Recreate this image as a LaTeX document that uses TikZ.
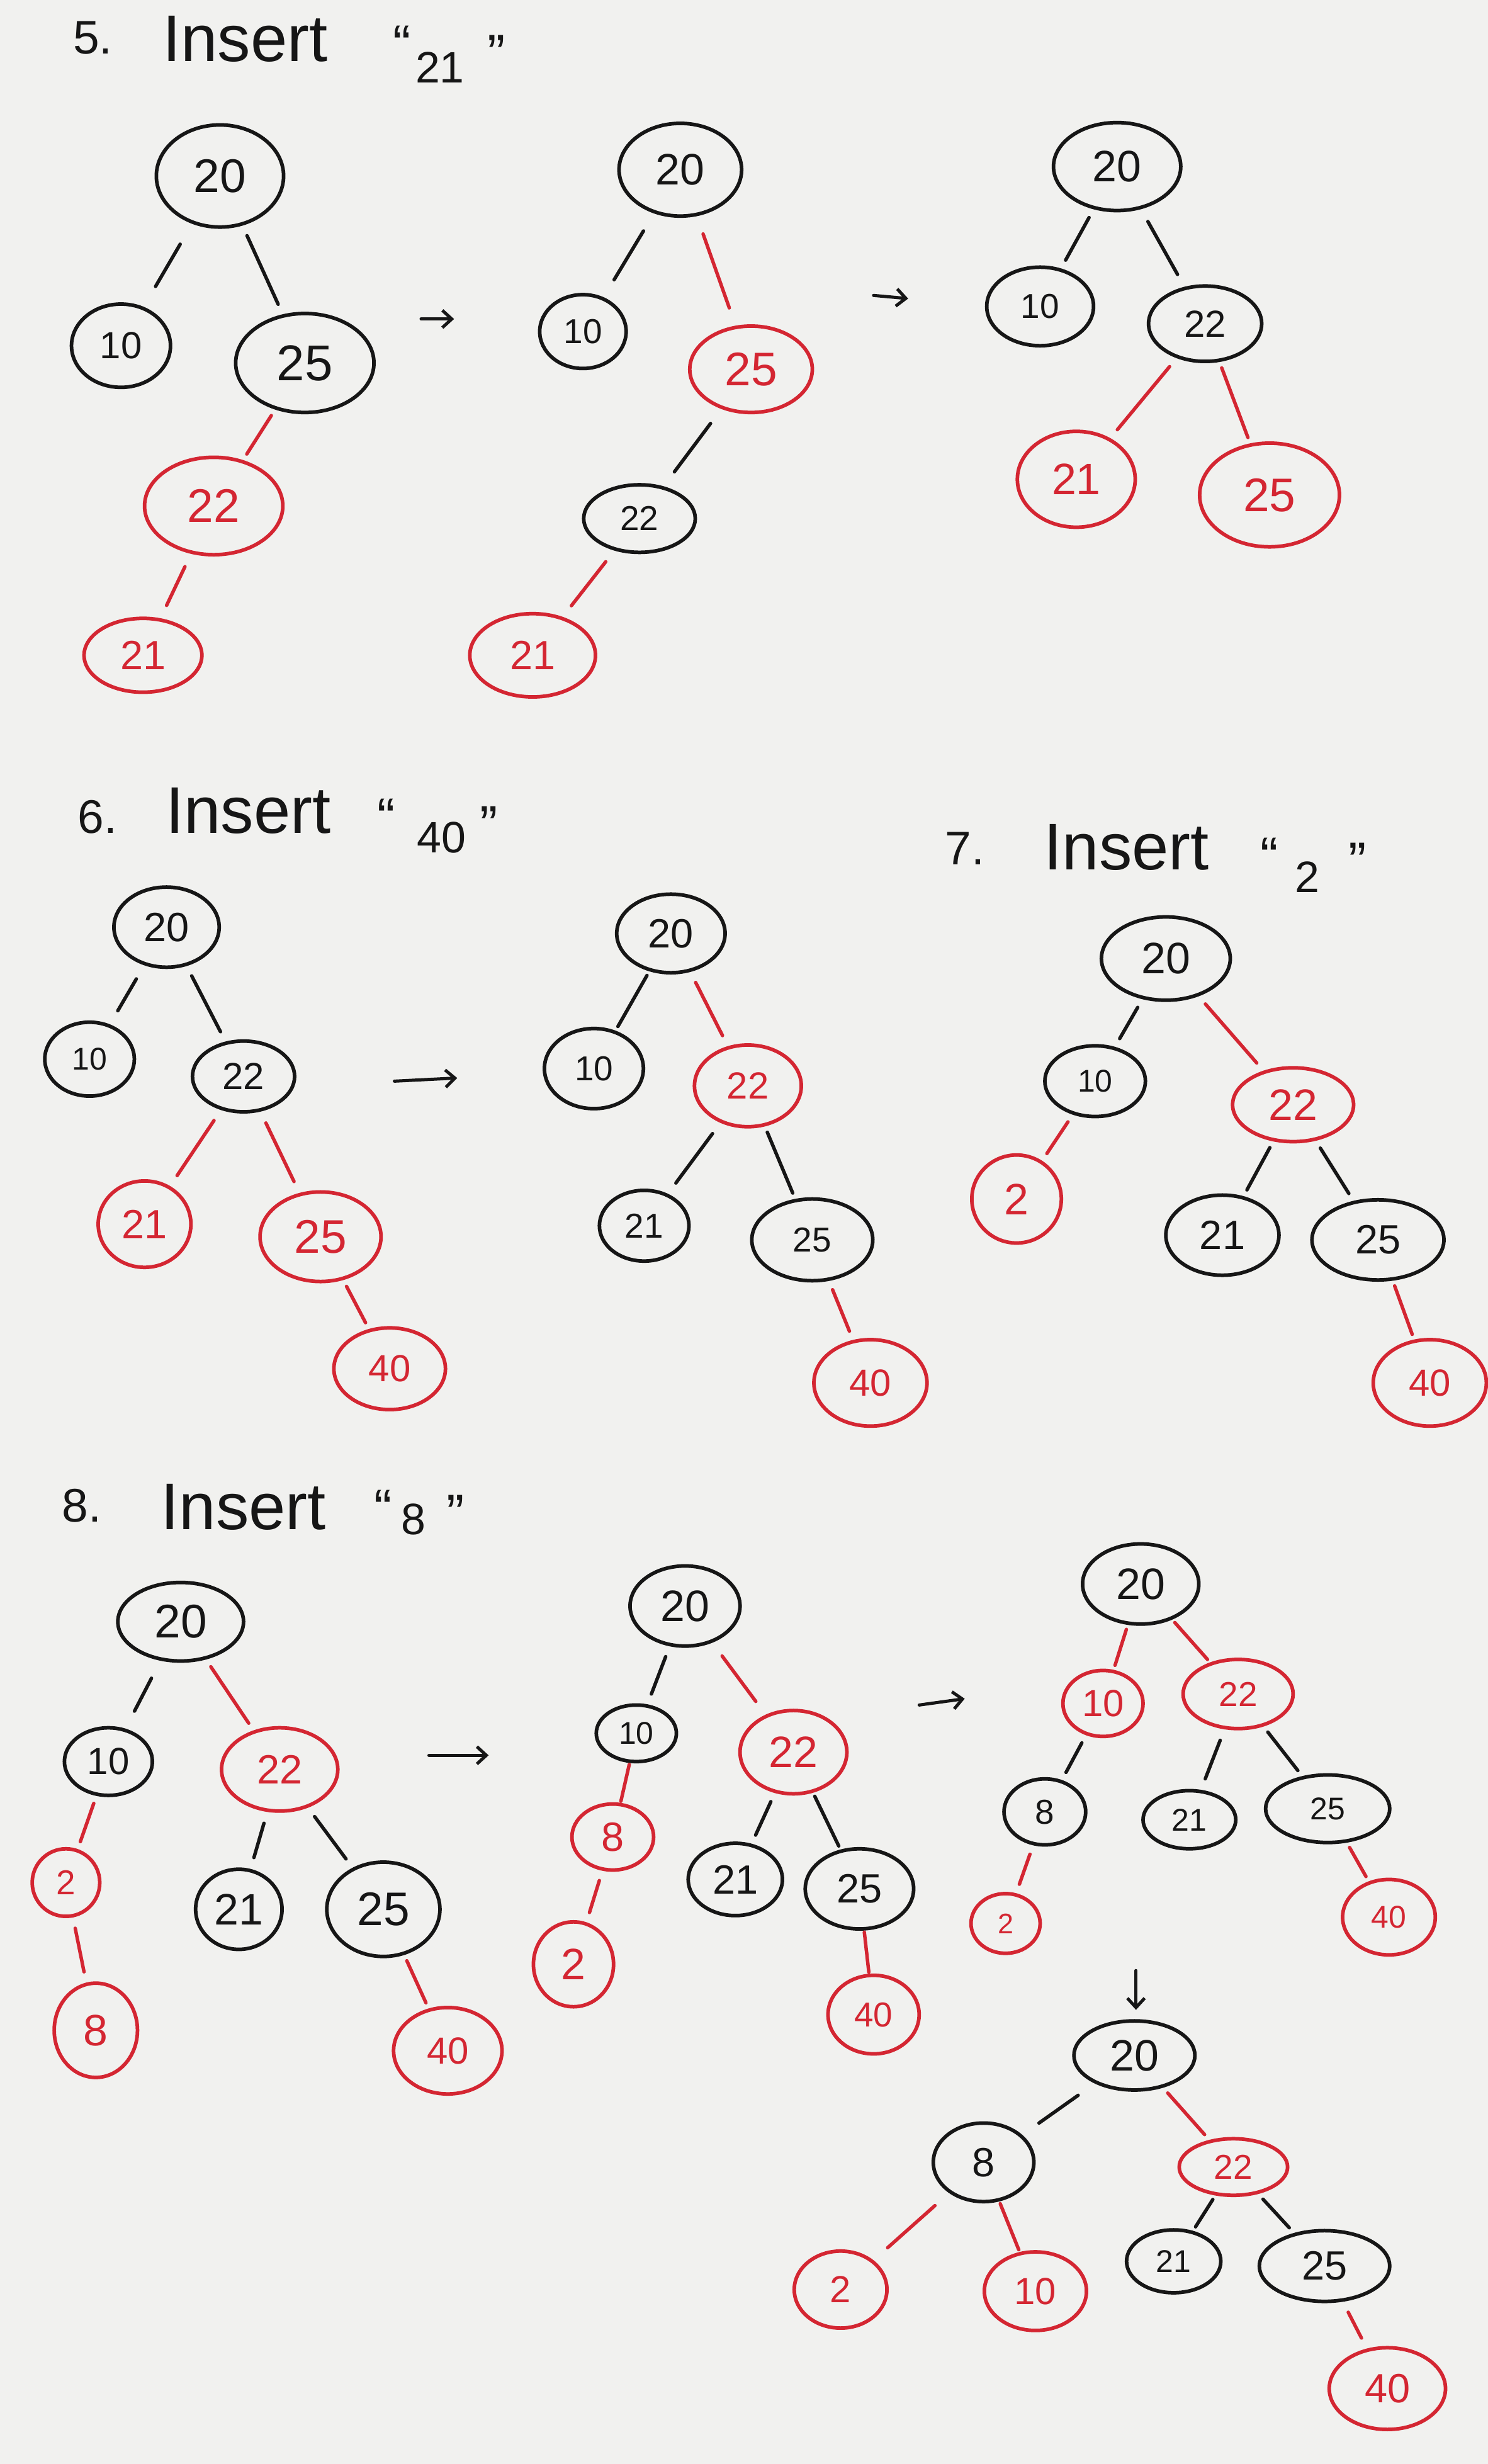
\documentclass[tikz,border=0pt]{standalone}
\usepackage{fontspec}
\setmainfont{Liberation Sans}
\usetikzlibrary{shapes.geometric,arrows.meta}
\definecolor{ink}{RGB}{22,22,22}
\definecolor{rink}{RGB}{212,38,50}
\definecolor{paper}{RGB}{241,241,239}
\tikzset{
  nd/.style={ellipse, line width=2.3pt, inner sep=0pt},
  bn/.style={nd, draw=ink, text=ink},
  rn/.style={nd, draw=rink, text=rink},
  be/.style={draw=ink, line width=2.2pt, line cap=round, shorten <=9pt, shorten >=9pt},
  re/.style={be, draw=rink},
  sh/.style={shorten <=#1pt, shorten >=#1pt},
  arr/.style={draw=ink, line width=2pt, line cap=round, -{Straight Barb[length=6pt,width=11pt,line width=2pt]}},
  hd/.style={text=ink, inner sep=0pt},
}
\newcommand\mynd[8]{\node[#1, minimum width=#5pt, minimum height=#6pt, font=\fontsize{#7}{#7}\selectfont] (#2) at (#3,#4) {#8};}
\begin{document}
\begin{tikzpicture}[x=1pt,y=-1pt]
\fill[paper] (0,0) rectangle (947,1568);
\useasboundingbox (0,0) rectangle (947,1568);

% ---------- Section 5 heading ----------
\node[hd, font=\fontsize{30}{30}\selectfont] (h5n) at (59,24) {5.};
\node[hd, font=\fontsize{42}{42}\selectfont] (h5i) at (156,25) {Insert};
\node[hd, font=\fontsize{34}{34}\selectfont] (h5q1) at (256,28) {“};
\node[hd, font=\fontsize{28}{28}\selectfont] (h5v) at (280,43) {21};
\node[hd, font=\fontsize{34}{34}\selectfont] (h5q2) at (316,34) {”};

% ---------- Tree 1 ----------
\mynd{bn}{a20}{140}{112}{81}{65}{30}{20}
\mynd{bn}{a10}{77}{220}{63}{53}{24}{10}
\mynd{bn}{a25}{194}{231}{88}{63}{32}{25}
\mynd{rn}{a22}{136}{322}{88}{62}{30}{22}
\mynd{rn}{a21}{91}{417}{75}{47}{26}{21}
\draw[be, sh=15] (a20) -- (a10);
\draw[be, sh=7] (a20) -- (a25);
\draw[re, sh=4.5] (a25) -- (a22);
\draw[re, sh=9] (a22) -- (a21);

\coordinate (ar1s) at (268,203);
\coordinate (ar1e) at (289,203);
\draw[arr] (ar1s) -- (ar1e);

% ---------- Tree 2 ----------
\mynd{bn}{b20}{433}{108}{78}{59}{28}{20}
\mynd{bn}{b10}{371}{211}{55}{47}{22}{10}
\mynd{rn}{b25}{478}{235}{78}{55}{30}{25}
\mynd{bn}{b22}{407}{330}{71}{43}{22}{22}
\mynd{rn}{b21}{339}{417}{80}{53}{26}{21}
\draw[be, sh=13] (b20) -- (b10);
\draw[re, sh=12] (b20) -- (b25);
\draw[be, sh=11.5] (b25) -- (b22);
\draw[re, sh=9] (b22) -- (b21);

\coordinate (ar2s) at (556,188);
\coordinate (ar2e) at (578,190);
\draw[arr] (ar2s) -- (ar2e);

% ---------- Tree 3 ----------
\mynd{bn}{c20}{711}{106}{81}{56}{28}{20}
\mynd{bn}{c10}{662}{195}{68}{50}{22}{10}
\mynd{bn}{c22}{767}{206}{72}{48}{24}{22}
\mynd{rn}{c21}{685}{305}{75}{61}{28}{21}
\mynd{rn}{c25}{808}{315}{89}{66}{30}{25}
\draw[be, sh=6] (c20) -- (c10);
\draw[be, sh=9] (c20) -- (c22);
\draw[re, sh=7] (c22) -- (c21);
\draw[re, sh=4] (c22) -- (c25);

% ---------- Section 6 heading ----------
\node[hd, font=\fontsize{30}{30}\selectfont] (h6n) at (62,520) {6.};
\node[hd, font=\fontsize{42}{42}\selectfont] (h6i) at (158,516) {Insert};
\node[hd, font=\fontsize{34}{34}\selectfont] (h6q1) at (246,520) {“};
\node[hd, font=\fontsize{28}{28}\selectfont] (h6v) at (281,533) {40};
\node[hd, font=\fontsize{34}{34}\selectfont] (h6q2) at (311,525) {”};

% ---------- Tree 4 ----------
\mynd{bn}{d20}{106}{590}{67}{51}{26}{20}
\mynd{bn}{d10}{57}{674}{57}{47}{20}{10}
\mynd{bn}{d22}{155}{685}{65}{45}{24}{22}
\mynd{rn}{d21}{92}{779}{59}{55}{26}{21}
\mynd{rn}{d25}{204}{787}{77}{57}{30}{25}
\mynd{rn}{d40}{248}{871}{71}{52}{24}{40}
\draw[be, sh=10] (d20) -- (d10);
\draw[be, sh=7] (d20) -- (d22);
\draw[re, sh=8] (d22) -- (d21);
\draw[re, sh=8] (d22) -- (d25);
\draw[re, sh=4.5] (d25) -- (d40);

\coordinate (ar3s) at (251,688);
\coordinate (ar3e) at (291,686);
\draw[arr] (ar3s) -- (ar3e);

% ---------- Tree 5 ----------
\mynd{bn}{e20}{427}{594}{69}{50}{26}{20}
\mynd{bn}{e10}{378}{680}{63}{51}{22}{10}
\mynd{rn}{e22}{476}{691}{68}{52}{24}{22}
\mynd{bn}{e21}{410}{780}{57}{45}{22}{21}
\mynd{bn}{e25}{517}{789}{77}{52}{22}{25}
\mynd{rn}{e40}{554}{880}{72}{55}{24}{40}
\draw[be, sh=3] (e20) -- (e10);
\draw[re, sh=7.5] (e20) -- (e22);
\draw[be, sh=8.5] (e22) -- (e21);
\draw[be, sh=4] (e22) -- (e25);
\draw[re, sh=6] (e25) -- (e40);

% ---------- Section 7 heading ----------
\node[hd, font=\fontsize{30}{30}\selectfont] (h7n) at (614,540) {7.};
\node[hd, font=\fontsize{42}{42}\selectfont] (h7i) at (717,539) {Insert};
\node[hd, font=\fontsize{34}{34}\selectfont] (h7q1) at (808,545) {“};
\node[hd, font=\fontsize{28}{28}\selectfont] (h7v) at (832,558) {2};
\node[hd, font=\fontsize{34}{34}\selectfont] (h7q2) at (864,548) {”};

% ---------- Tree 6 ----------
\mynd{bn}{f20}{742}{610}{82}{53}{28}{20}
\mynd{bn}{f10}{697}{688}{64}{45}{20}{10}
\mynd{rn}{f22}{823}{703}{77}{47}{28}{22}
\mynd{rn}{f2}{647}{763}{57}{56}{28}{2}
\mynd{bn}{f21}{778}{786}{72}{51}{26}{21}
\mynd{bn}{f25}{877}{789}{84}{51}{26}{25}
\mynd{rn}{f40}{910}{880}{72}{55}{24}{40}
\draw[be, sh=6] (f20) -- (f10);
\draw[re, sh=6.5] (f20) -- (f22);
\draw[re, sh=5.5] (f10) -- (f2);
\draw[be, sh=4.5] (f22) -- (f21);
\draw[be, sh=5.5] (f22) -- (f25);
\draw[re, sh=3.5] (f25) -- (f40);

% ---------- Section 8 heading ----------
\node[hd, font=\fontsize{30}{30}\selectfont] (h8n) at (52,958) {8.};
\node[hd, font=\fontsize{42}{42}\selectfont] (h8i) at (155,959) {Insert};
\node[hd, font=\fontsize{34}{34}\selectfont] (h8q1) at (244,960) {“};
\node[hd, font=\fontsize{28}{28}\selectfont] (h8v) at (263,967) {8};
\node[hd, font=\fontsize{34}{34}\selectfont] (h8q2) at (290,963) {”};

% ---------- Tree 7 ----------
\mynd{bn}{g20}{115}{1032}{80}{50}{30}{20}
\mynd{bn}{g10}{69}{1121}{56}{43}{24}{10}
\mynd{rn}{g22}{178}{1126}{74}{53}{26}{22}
\mynd{rn}{g2}{42}{1198}{43}{43}{22}{2}
\mynd{bn}{g21}{152}{1215}{55}{51}{28}{21}
\mynd{bn}{g25}{244}{1215}{72}{60}{30}{25}
\mynd{rn}{g8}{61}{1292}{53}{60}{28}{8}
\mynd{rn}{g40}{285}{1305}{69}{55}{24}{40}
\draw[be, sh=12.5] (g20) -- (g10);
\draw[re, sh=5.5] (g20) -- (g22);
\draw[re, sh=5] (g10) -- (g2);
\draw[be, sh=7.5] (g22) -- (g21);
\draw[be, sh=7] (g22) -- (g25);
\draw[re, sh=7] (g2) -- (g8);
\draw[re, sh=4] (g25) -- (g40);

\coordinate (ar4s) at (273,1117);
\coordinate (ar4e) at (311,1117);
\draw[arr] (ar4s) -- (ar4e);

% ---------- Tree 8 ----------
\mynd{bn}{h20}{436}{1022}{70}{51}{28}{20}
\mynd{bn}{h10}{405}{1103}{51}{36}{20}{10}
\mynd{rn}{h22}{505}{1115}{68}{53}{28}{22}
\mynd{rn}{h8}{390}{1169}{52}{42}{26}{8}
\mynd{bn}{h21}{468}{1196}{60}{46}{26}{21}
\mynd{bn}{h25}{547}{1202}{69}{51}{26}{25}
\mynd{rn}{h2}{365}{1250}{51}{54}{28}{2}
\mynd{rn}{h40}{556}{1282}{58}{50}{22}{40}
\draw[be, sh=7] (h20) -- (h10);
\draw[re, sh=10.5] (h20) -- (h22);
\draw[re, sh=1] (h10) -- (h8);
\draw[be, sh=6] (h22) -- (h21);
\draw[be, sh=2.5] (h22) -- (h25);
\draw[re, sh=6.5] (h8) -- (h2);
\draw[re, sh=1] (h25) -- (h40);

\coordinate (ar5s) at (585,1085);
\coordinate (ar5e) at (614,1081);
\draw[arr] (ar5s) -- (ar5e);

% ---------- Tree 9 ----------
\mynd{bn}{i20}{726}{1008}{74}{51}{28}{20}
\mynd{rn}{i10}{702}{1084}{51}{42}{24}{10}
\mynd{rn}{i22}{788}{1078}{70}{44}{22}{22}
\mynd{bn}{i8}{665}{1153}{52}{42}{22}{8}
\mynd{bn}{i21}{757}{1158}{59}{37}{20}{21}
\mynd{bn}{i25}{845}{1151}{79}{43}{20}{25}
\mynd{rn}{i2}{640}{1224}{44}{38}{18}{2}
\mynd{rn}{i40}{884}{1220}{59}{48}{20}{40}
\draw[re, sh=3] (i20) -- (i10);
\draw[re, sh=2.5] (i20) -- (i22);
\draw[be, sh=5.5] (i10) -- (i8);
\draw[be, sh=7.5] (i22) -- (i21);
\draw[be, sh=4.5] (i22) -- (i25);
\draw[re, sh=6] (i8) -- (i2);
\draw[re, sh=3.5] (i25) -- (i40);

\coordinate (ar6s) at (723,1254);
\coordinate (ar6e) at (723,1279);
\draw[arr] (ar6s) -- (ar6e);

% ---------- Tree 10 ----------
\mynd{bn}{j20}{722}{1308}{77}{44}{28}{20}
\mynd{bn}{j8}{626}{1376}{64}{50}{26}{8}
\mynd{rn}{j22}{785}{1379}{69}{36}{22}{22}
\mynd{rn}{j2}{535}{1457}{59}{49}{24}{2}
\mynd{rn}{j10}{659}{1458}{65}{50}{24}{10}
\mynd{bn}{j21}{747}{1439}{60}{40}{20}{21}
\mynd{bn}{j25}{843}{1442}{83}{45}{26}{25}
\mynd{rn}{j40}{883}{1520}{74}{52}{26}{40}
\draw[be, sh=13] (j20) -- (j8);
\draw[re, sh=4.5] (j20) -- (j22);
\draw[re, sh=12] (j8) -- (j2);
\draw[re, sh=1.5] (j8) -- (j10);
\draw[be, sh=3] (j22) -- (j21);
\draw[be, sh=4.5] (j22) -- (j25);
\draw[re, sh=7.5] (j25) -- (j40);
\end{tikzpicture}
\end{document}
